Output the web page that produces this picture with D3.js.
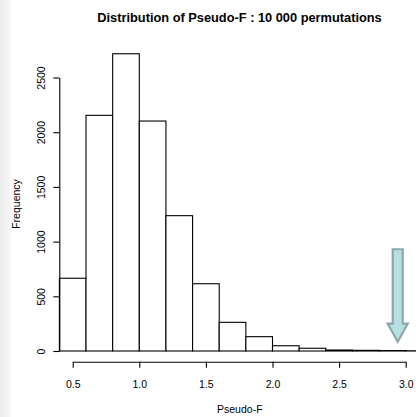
<!DOCTYPE html>
<html>
<head>
<meta charset="utf-8">
<script src="https://cdn.jsdelivr.net/npm/d3@7"></script>
<style>
  html, body { margin: 0; padding: 0; background: #fff; }
  svg { display: block; font-family: "Liberation Sans", Arial, Helvetica, sans-serif; }
</style>
</head>
<body>
<svg id="chart" width="416" height="417"></svg>
<script>
// histogram bins (width 0.2) and counts
var binStarts = [0.4, 0.6, 0.8, 1.0, 1.2, 1.4, 1.6, 1.8, 2.0, 2.2, 2.4, 2.6, 2.8, 3.0];
var counts = [665, 2154, 2717, 2102, 1237, 615, 262, 131, 48, 25, 9, 6, 4, 2];
var binWidth = 0.2;

var xTicks = [0.5, 1.0, 1.5, 2.0, 2.5, 3.0];
var yTicks = [0, 500, 1000, 1500, 2000, 2500];

// marker arrow pointing at the observed pseudo-F
var arrowAt = [{ x: 2.94, top: 930, tip: 85 }];

var svg = d3.select('#chart');

// faint grey strip on the left edge of the picture
var grad = svg.append('defs').append('linearGradient')
  .attr('id', 'edge')
  .attr('x1', 0).attr('x2', 1);
grad.append('stop').attr('offset', 0).attr('stop-color', '#ededed');
grad.append('stop').attr('offset', 0.6).attr('stop-color', '#f3f3f3');
grad.append('stop').attr('offset', 1).attr('stop-color', '#ffffff');
svg.append('rect')
  .attr('x', 0).attr('y', 0)
  .attr('width', 13).attr('height', 417)
  .attr('fill', 'url(#edge)');

var x = d3.scaleLinear().domain([0.5, 3.0]).range([72.7, 405.7]);
var y = d3.scaleLinear().domain([0, 2500]).range([351, 77.5]);

// bars
svg.append('g')
  .selectAll('rect')
  .data(binStarts)
  .enter()
  .append('rect')
  .attr('x', function (d) { return x(d); })
  .attr('y', function (d, i) { return y(counts[i]); })
  .attr('width', function (d) { return x(d + binWidth) - x(d); })
  .attr('height', function (d, i) { return y(0) - y(counts[i]); })
  .attr('fill', '#fff')
  .attr('stroke', '#000')
  .attr('stroke-width', 1.1);

// x axis
var xAxis = svg.append('g')
  .attr('transform', 'translate(0,361.7)')
  .call(d3.axisBottom(x).tickValues(xTicks).tickSize(6).tickSizeOuter(0)
    .tickFormat(d3.format('.1f')));
xAxis.select('.domain').attr('stroke', '#000').attr('stroke-width', 1.1);
xAxis.selectAll('.tick line').attr('stroke', '#000').attr('stroke-width', 1.1);
xAxis.selectAll('.tick text')
  .attr('y', 22.5).attr('dy', '0.35em')
  .attr('fill', '#000')
  .style('font-size', '10.5px')
  .style('font-family', '"Liberation Sans", Arial, sans-serif');

// y axis
var yAxis = svg.append('g')
  .attr('transform', 'translate(59.3,0)')
  .call(d3.axisLeft(y).tickValues(yTicks).tickSize(6).tickSizeOuter(0)
    .tickFormat(d3.format('d')));
yAxis.select('.domain').attr('stroke', '#000').attr('stroke-width', 1.1);
yAxis.selectAll('.tick line').attr('stroke', '#000').attr('stroke-width', 1.1);
yAxis.selectAll('.tick text')
  .attr('x', 0).attr('dy', null)
  .attr('transform', 'translate(-18.6,0) rotate(-90)')
  .attr('text-anchor', 'middle')
  .attr('dominant-baseline', 'central')
  .attr('fill', '#000')
  .style('font-size', '10.5px')
  .style('font-family', '"Liberation Sans", Arial, sans-serif');

// titles
svg.append('text')
  .attr('x', 239.5).attr('y', 17.3)
  .attr('text-anchor', 'middle')
  .attr('dominant-baseline', 'central')
  .style('font-size', '12.8px')
  .style('font-weight', 'bold')
  .text('Distribution of Pseudo-F : 10 000 permutations');

svg.append('text')
  .attr('x', 239.8).attr('y', 408.5)
  .attr('text-anchor', 'middle')
  .attr('dominant-baseline', 'central')
  .style('font-size', '10.5px')
  .text('Pseudo-F');

svg.append('text')
  .attr('transform', 'translate(15.5,204) rotate(-90)')
  .attr('text-anchor', 'middle')
  .attr('dominant-baseline', 'central')
  .style('font-size', '10.5px')
  .text('Frequency');

// arrow
svg.append('g')
  .selectAll('path')
  .data(arrowAt)
  .enter()
  .append('path')
  .attr('d', function (d) {
    var cx = x(d.x), top = y(d.top), tip = y(d.tip);
    var sw = 5, hw = 10, hh = 18;
    return 'M' + (cx - sw) + ',' + top +
      'L' + (cx + sw) + ',' + top +
      'L' + (cx + sw) + ',' + (tip - hh) +
      'L' + (cx + hw) + ',' + (tip - hh) +
      'L' + cx + ',' + tip +
      'L' + (cx - hw) + ',' + (tip - hh) +
      'L' + (cx - sw) + ',' + (tip - hh) + 'Z';
  })
  .attr('fill', '#b8e0e3')
  .attr('stroke', '#8aa8aa')
  .attr('stroke-width', 2.2)
  .attr('stroke-linejoin', 'miter');
</script>
</body>
</html>
